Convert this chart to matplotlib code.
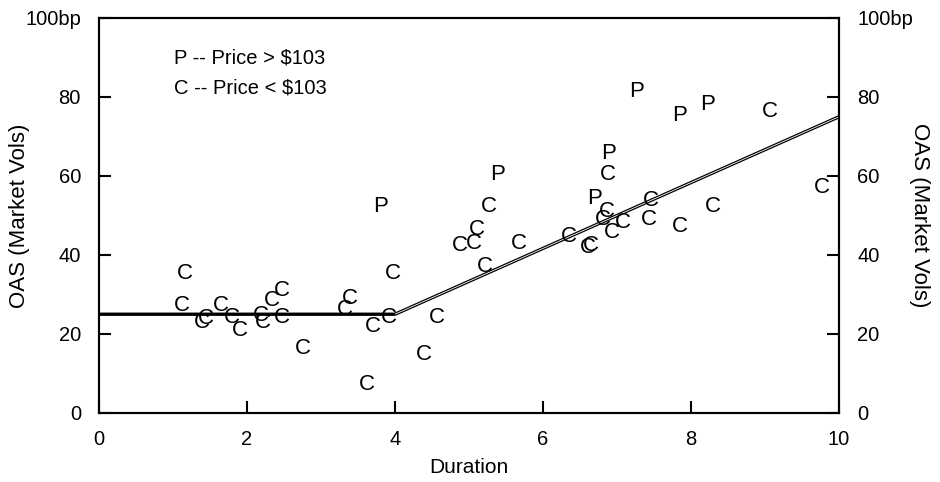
import numpy as np
import matplotlib.pyplot as plt

plt.rcParams['font.family'] = ['Liberation Sans', 'DejaVu Sans']

# "P" points: price > $103
p_dur = [3.80, 5.39, 6.69, 6.88, 7.26, 7.85, 8.22]
p_oas = [52.2, 60.3, 54.2, 65.8, 81.3, 75.2, 78.2]

# "C" points: price < $103
c_dur = [1.16, 1.12, 1.39, 1.45, 1.65, 1.80, 1.91, 2.19, 2.22, 2.34, 2.47, 2.47,
         2.76, 3.32, 3.39, 3.62, 3.70, 3.92, 3.97, 4.39, 4.57, 4.88, 5.07, 5.11,
         5.27, 5.22, 5.68, 6.35, 6.64, 6.61, 6.86, 6.81, 6.93, 7.08, 7.46, 7.43,
         6.88, 9.07, 9.77, 8.30, 7.85]
c_oas = [35.2, 27.1, 23.0, 23.8, 27.1, 24.1, 21.0, 24.8, 23.0, 28.6, 30.9, 24.1,
         16.2, 26.1, 29.1, 7.3, 22.0, 24.1, 35.2, 14.9, 24.1, 42.3, 42.8, 46.5,
         52.2, 37.2, 43.0, 44.8, 42.5, 41.8, 50.9, 48.9, 45.8, 48.1, 53.7, 48.9,
         60.3, 76.2, 57.2, 52.2, 47.1]

# fitted kinked line
line_x = [0, 4, 10]
line_y = [25, 25, 75]

yticks = [0, 20, 40, 60, 80, 100]
ytick_labels = ['0', '20', '40', '60', '80', '100bp']
xticks = [0, 2, 4, 6, 8, 10]

fig = plt.figure(figsize=(9.4, 4.82), dpi=100)
ax = fig.add_axes([0.1053, 0.1432, 0.7873, 0.8195])

for x, y in zip(c_dur, c_oas):
    ax.text(x, y, 'C', fontsize=16, ha='center', va='center')
for x, y in zip(p_dur, p_oas):
    ax.text(x, y, 'P', fontsize=16, ha='center', va='center')

ax.plot(line_x, line_y, color='black', lw=2.4, solid_capstyle='butt')
ax.plot(line_x[1:], line_y[1:], color='white', lw=0.6, solid_capstyle='butt')

ax.text(1.01, 89.9, 'P -- Price > $103', fontsize=14.5, va='center')
ax.text(1.01, 82.3, 'C -- Price < $103', fontsize=14.5, va='center')

ax.set_xlim(0, 10)
ax.set_ylim(0, 100)
ax.set_xticks(xticks)
ax.set_yticks(yticks)
ax.set_yticklabels(ytick_labels)
ax.tick_params(axis='x', direction='in', length=8.5, width=1.5, labelsize=14.5, pad=12)
ax.tick_params(axis='y', direction='in', length=8.5, width=1.5, labelsize=14.5, pad=13)
for s in ax.spines.values():
    s.set_linewidth(1.5)
ax.set_xlabel('Duration', fontsize=15, labelpad=7)
ax.set_ylabel('OAS (Market Vols)', fontsize=16, va='center')
ax.yaxis.set_label_coords(-0.107, 0.5)

ax2 = ax.twinx()
ax2.set_ylim(0, 100)
ax2.set_yticks(yticks)
ax2.set_yticklabels(ytick_labels)
ax2.tick_params(axis='y', direction='in', length=8.5, width=1.5, labelsize=14.5, pad=13)
for s in ax2.spines.values():
    s.set_linewidth(1.5)
ax2.set_ylabel('OAS (Market Vols)', fontsize=16, rotation=-90, va='center')
ax2.yaxis.set_label_coords(1.109, 0.5)

plt.savefig('out.png', dpi=100)
